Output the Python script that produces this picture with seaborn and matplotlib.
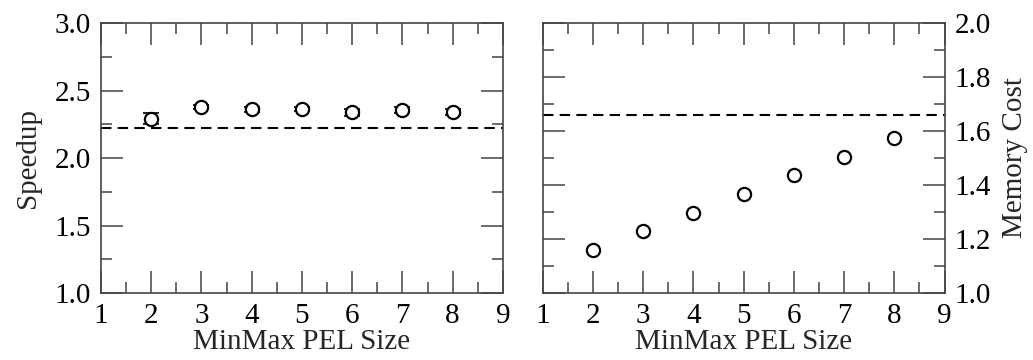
import matplotlib
matplotlib.use("Agg")
import matplotlib.pyplot as plt
import seaborn as sns
import pandas as pd
from matplotlib.ticker import MultipleLocator, FormatStrFormatter

pel_size = [2, 3, 4, 5, 6, 7, 8]
speedup = [2.29, 2.38, 2.36, 2.36, 2.34, 2.355, 2.34]
speedup_err = [0.04, 0.015, 0.02, 0.015, 0.025, 0.02, 0.02]
speedup_baseline = 2.22
memory_cost = [1.159, 1.228, 1.297, 1.367, 1.436, 1.505, 1.575]
memory_baseline = 1.659

sns.set_theme(style="white")
plt.rcParams['font.family'] = ['Liberation Serif', 'DejaVu Serif']

fig = plt.figure(figsize=(10.33, 3.6), dpi=100)
ax1 = fig.add_axes([0.0978, 0.186, 0.389, 0.750])
ax2 = fig.add_axes([0.5254, 0.186, 0.389, 0.750])

df1 = pd.DataFrame({"x": pel_size, "y": speedup})
df2 = pd.DataFrame({"x": pel_size, "y": memory_cost})

ax1.errorbar(pel_size, speedup, yerr=speedup_err, fmt='none', ecolor='black',
             elinewidth=1.2, capsize=6, capthick=1.2, zorder=2)
sns.scatterplot(data=df1, x="x", y="y", ax=ax1, marker='o', s=90,
                facecolor='white', edgecolor='black', linewidth=1.6, zorder=3)
ax1.axhline(speedup_baseline, color='black', ls=(0, (5, 3)), lw=1.5)

sns.scatterplot(data=df2, x="x", y="y", ax=ax2, marker='o', s=90,
                facecolor='white', edgecolor='black', linewidth=1.6, zorder=3)
ax2.axhline(memory_baseline, color='black', ls=(0, (5, 3)), lw=1.5)

for ax in (ax1, ax2):
    ax.set_xlim(1, 9)
    ax.xaxis.set_major_locator(MultipleLocator(1))
    ax.xaxis.set_minor_locator(MultipleLocator(0.5))
    ax.tick_params(which='both', direction='in', top=True, right=True,
                   bottom=True, left=True, colors='#444444', labelcolor='black',
                   labelsize=21, pad=7)
    ax.tick_params(which='major', length=16, width=1.1)
    ax.tick_params(which='minor', length=8, width=1.1)
    for s in ax.spines.values():
        s.set_color('#444444')
        s.set_linewidth(1.2)
    ax.set_xlabel("MinMax PEL Size", fontsize=21)
    ax.xaxis.labelpad = 0

ax1.set_ylim(1.0, 3.0)
ax1.yaxis.set_major_locator(MultipleLocator(0.5))
ax1.yaxis.set_minor_locator(MultipleLocator(0.25))
ax1.yaxis.set_major_formatter(FormatStrFormatter('%.1f'))
ax1.set_ylabel("Speedup", fontsize=21)
ax1.yaxis.labelpad = 10

ax2.set_ylim(1.0, 2.0)
ax2.yaxis.set_major_locator(MultipleLocator(0.2))
ax2.yaxis.set_minor_locator(MultipleLocator(0.1))
ax2.yaxis.set_major_formatter(FormatStrFormatter('%.1f'))
ax2.tick_params(axis='y', which='both', labelleft=False, labelright=True)
ax2.yaxis.set_label_position('right')
ax2.set_ylabel("Memory Cost", fontsize=21)
ax2.yaxis.labelpad = 8

fig.savefig("out.png", dpi=100)
